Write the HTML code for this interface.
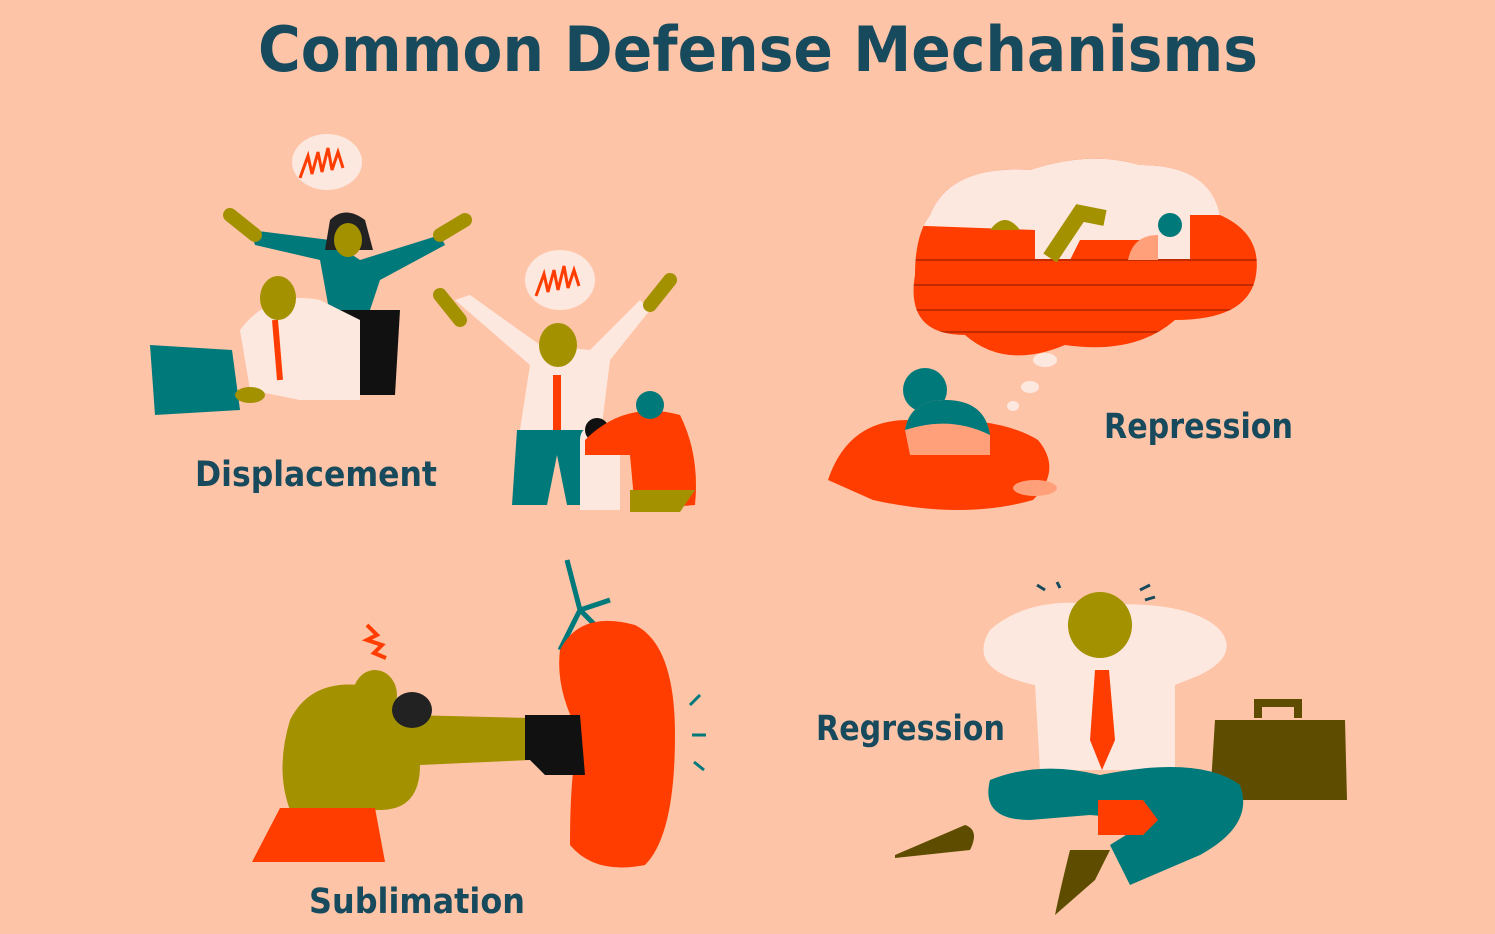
<!DOCTYPE html>
<html><head><meta charset="utf-8"><style>
html,body{margin:0;padding:0;background:#FEC4A7;}
svg{display:block}
text{font-family:"DejaVu Sans","Liberation Sans",sans-serif;font-weight:bold;fill:#174A5C}
</style></head><body>
<svg width="1495" height="934" viewBox="0 0 1495 934" xmlns="http://www.w3.org/2000/svg">
<defs>
<clipPath id="cl"><path d="M930 215 q20 -50 100 -45 q60 -20 110 -5 q70 0 80 50 q45 20 35 65 q-10 40 -80 40 q-40 35 -110 25 q-60 25 -100 -10 q-60 0 -50 -60 q0 -40 15 -60Z"/></clipPath>
</defs>
<rect width="1495" height="934" fill="#FEC4A7"/>
<text x="758" y="71" font-size="62" text-anchor="middle" textLength="1000" lengthAdjust="spacingAndGlyphs">Common Defense Mechanisms</text>

<!-- Displacement -->
<ellipse cx="327" cy="162" rx="35" ry="28" fill="#FDE8DF"/>
<path d="M300 178 l8 -22 l4 18 l6 -22 l4 20 l6 -24 l4 22 l6 -18 l5 16" stroke="#FF3D00" stroke-width="3" fill="none"/>
<path d="M250 230 L330 240 L360 260 L440 235 L445 245 L380 280 L370 310 L330 315 L320 260 L255 245Z" fill="#00797A"/>
<path d="M230 215 l25 20 M440 235 l25 -15" stroke="#A39100" stroke-width="14" stroke-linecap="round"/>
<path d="M330 220 q15 -15 35 0 l8 30 h-48Z" fill="#222"/>
<ellipse cx="348" cy="240" rx="14" ry="17" fill="#A39100"/>
<path d="M330 310 h70 l-5 85 h-40Z" fill="#111"/>
<path d="M240 330 q30 -40 80 -30 l40 20 l0 80 l-60 0 l-50 -10Z" fill="#FDE8DF"/>
<ellipse cx="278" cy="298" rx="18" ry="22" fill="#A39100"/>
<path d="M275 320 l5 60" stroke="#FF3D00" stroke-width="6"/>
<path d="M150 345 L232 350 L240 410 L155 415Z" fill="#00797A"/>
<ellipse cx="250" cy="395" rx="15" ry="8" fill="#A39100"/>

<ellipse cx="560" cy="280" rx="35" ry="30" fill="#FDE8DF"/>
<path d="M536 296 l8 -22 l4 18 l6 -22 l4 20 l6 -24 l4 22 l6 -18 l5 16" stroke="#FF3D00" stroke-width="3" fill="none"/>
<path d="M455 300 L530 365 L520 430 L600 440 L610 360 L650 310 L640 300 L590 350 L540 345 L470 295Z" fill="#FDE8DF"/>
<path d="M440 295 l20 25 M650 305 l20 -25" stroke="#A39100" stroke-width="14" stroke-linecap="round"/>
<ellipse cx="558" cy="345" rx="19" ry="22" fill="#A39100"/>
<path d="M557 375 l0 65" stroke="#FF3D00" stroke-width="8"/>
<path d="M517 430 h75 l-5 75 h-20 l-10 -50 l-10 50 h-35Z" fill="#00797A"/>
<path d="M580 440 q0 -15 20 -15 q20 0 20 15 v70 h-40Z" fill="#FDE8DF"/>
<circle cx="597" cy="430" r="12" fill="#111"/>
<path d="M585 440 q40 -40 95 -25 q20 40 15 90 l-60 5 l-5 -55 l-45 0Z" fill="#FF3D00"/>
<circle cx="650" cy="405" r="14" fill="#00797A"/>
<path d="M630 490 h65 l-15 22 h-50Z" fill="#A39100"/>
<text x="195" y="486" font-size="35" textLength="242" lengthAdjust="spacingAndGlyphs">Displacement</text>

<!-- Repression -->
<path d="M930 215 q20 -50 100 -45 q60 -20 110 -5 q70 0 80 50 q45 20 35 65 q-10 40 -80 40 q-40 35 -110 25 q-60 25 -100 -10 q-60 0 -50 -60 q0 -40 15 -60Z" fill="#FF3D00"/>
<g clip-path="url(#cl)">
<path d="M900 150 H1260 V215 L1190 215 L1190 260 L1150 260 L1150 240 L1080 240 L1070 260 L1035 260 L1035 230 L900 225Z" fill="#FDE8DF"/>
<g stroke="#C22A00" stroke-width="2">
<line x1="900" y1="260" x2="1260" y2="260"/><line x1="900" y1="285" x2="1260" y2="285"/><line x1="900" y1="310" x2="1260" y2="310"/><line x1="900" y1="332" x2="1260" y2="332"/>
</g>
</g>
<path d="M990 230 q15 -20 30 0Z" fill="#A39100"/>
<path d="M1050 258 l30 -45 l25 5" stroke="#A39100" stroke-width="16" fill="none"/>
<circle cx="1170" cy="225" r="12" fill="#00797A"/>
<path d="M1128 260 q5 -25 30 -25 v25Z" fill="#FFA07A"/>
<ellipse cx="1045" cy="360" rx="12" ry="7" fill="#FDE8DF"/>
<ellipse cx="1030" cy="387" rx="9" ry="6" fill="#FDE8DF"/>
<ellipse cx="1013" cy="406" rx="6" ry="5" fill="#FDE8DF"/>
<path d="M828 480 q20 -60 80 -60 q90 -5 130 20 q25 30 -5 60 q-70 20 -160 0Z" fill="#FF3D00"/>
<circle cx="925" cy="390" r="22" fill="#00797A"/>
<path d="M905 430 q5 -30 40 -30 q40 0 45 35 v20 h-80Z" fill="#FFA07A"/>
<path d="M905 430 q5 -30 40 -30 q40 0 45 35 q-40 -20 -85 -5Z" fill="#00797A"/>
<ellipse cx="1035" cy="488" rx="22" ry="8" fill="#FFA07A"/>
<text x="1104" y="438" font-size="35" textLength="189" lengthAdjust="spacingAndGlyphs">Repression</text>

<!-- Sublimation -->
<path d="M567 560 L580 610 M580 610 L610 600 M580 610 L560 650 M580 610 L600 630" stroke="#00797A" stroke-width="5" fill="none"/>
<path d="M560 650 q20 -40 75 -25 q40 20 40 110 q0 100 -30 130 q-50 10 -75 -20 q0 -80 10 -110 q-25 -45 -20 -85Z" fill="#FF3D00"/>
<path d="M690 705 l10 -10 M692 735 h14 M694 762 l10 8" stroke="#00797A" stroke-width="3"/>
<path d="M367 625 l10 10 l-10 5 l15 5 l-8 8 l12 5" stroke="#FF3D00" stroke-width="4" fill="none"/>
<path d="M290 720 q20 -40 70 -35 q30 0 50 30 L530 718 L530 760 L420 765 q0 45 -40 45 L290 810 q-15 -40 0 -90Z" fill="#A39100"/>
<ellipse cx="375" cy="695" rx="22" ry="25" fill="#A39100"/>
<ellipse cx="412" cy="710" rx="20" ry="18" fill="#222"/>
<path d="M525 715 h55 l5 60 h-40 l-15 -15 h-5Z" fill="#111"/>
<path d="M280 808 h95 l10 54 h-133Z" fill="#FF3D00"/>
<text x="309" y="913" font-size="35" textLength="216" lengthAdjust="spacingAndGlyphs">Sublimation</text>

<!-- Regression -->
<path d="M1045 590 l-8 -5 M1060 588 l-3 -6 M1140 590 l10 -5 M1145 600 l10 -3" stroke="#174A5C" stroke-width="3"/>
<path d="M990 630 q40 -35 110 -25 q90 -5 120 25 q20 25 -20 45 l-25 10 l0 85 l-135 0 l-5 -85 q-70 -15 -45 -55Z" fill="#FDE8DF"/>
<ellipse cx="1100" cy="625" rx="32" ry="33" fill="#A39100"/>
<path d="M1095 670 h14 l6 70 l-13 30 l-12 -30Z" fill="#FF3D00"/>
<path d="M1215 720 h130 l2 80 h-137Z" fill="#5E4D00"/>
<path d="M1258 718 v-15 h40 v15" stroke="#5E4D00" stroke-width="8" fill="none"/>
<path d="M990 780 q50 -20 110 -5 q100 -20 140 10 q15 40 -40 70 l-70 30 l-20 -40 l40 -25 l-60 -5 l-60 5 q-50 0 -40 -40Z" fill="#00797A"/>
<path d="M1098 800 h45 l15 20 l-15 15 h-45Z" fill="#FF3D00"/>
<path d="M1070 850 q-10 40 -15 65 l40 -35 l15 -30Z" fill="#5E4D00"/>
<path d="M895 855 l70 -30 q15 5 5 25 l-75 8Z" fill="#5E4D00"/>
<text x="816" y="740" font-size="35" textLength="189" lengthAdjust="spacingAndGlyphs">Regression</text>
</svg>
</body></html>
